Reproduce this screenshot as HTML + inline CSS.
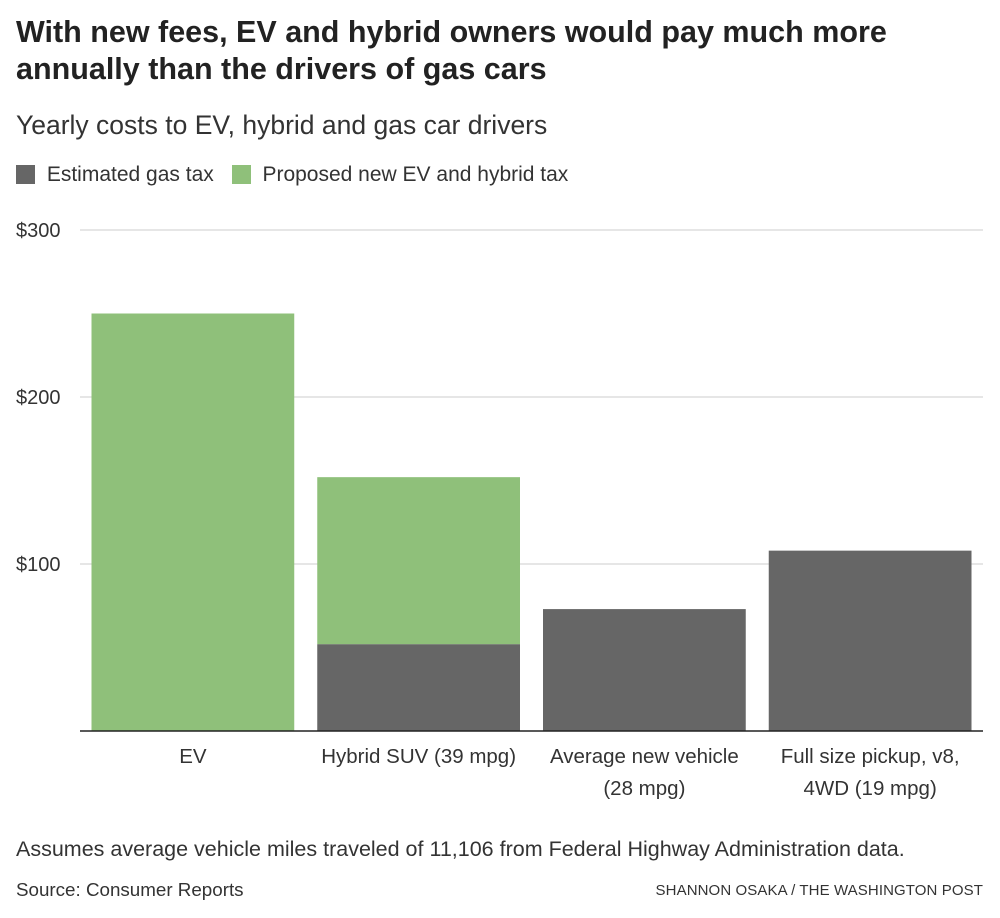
<!DOCTYPE html>
<html><head><meta charset="utf-8"><style>
body{margin:0;width:1000px;height:918px;background:#fff;font-family:"Liberation Sans",sans-serif;color:#222;position:relative;overflow:hidden}
.abs{position:absolute;white-space:nowrap}
</style></head><body>
<div class="abs" style="left:16px;top:14px;font-size:30.5px;font-weight:bold;line-height:37px;color:#222">With new fees, EV and hybrid owners would pay much more<br>annually than the drivers of gas cars</div>
<div class="abs" style="left:16px;top:110px;font-size:26.5px;color:#333">Yearly costs to EV, hybrid and gas car drivers</div>
<div class="abs" style="left:16px;top:163px;font-size:21px;color:#333;line-height:24px">
<span style="display:inline-block;width:19px;height:19px;background:#666;vertical-align:-3px"></span>
<span style="margin:0 12px 0 6px">Estimated gas tax</span>
<span style="display:inline-block;width:19px;height:19px;background:#8fc07a;vertical-align:-3px"></span>
<span style="margin-left:6px">Proposed new EV and hybrid tax</span>
</div>
<svg id="chart" width="1000" height="918" style="position:absolute;left:0;top:0"></svg>
<div class="abs" style="left:16px;top:837px;font-size:21.5px;color:#333">Assumes average vehicle miles traveled of 11,106 from Federal Highway Administration data.</div>
<div class="abs" style="left:16px;top:879px;font-size:18.8px;color:#333">Source: Consumer Reports</div>
<div class="abs" style="right:17px;top:882px;font-size:15px;color:#333;letter-spacing:0.1px">SHANNON OSAKA / THE WASHINGTON POST</div>
<script>
const categories=[["EV"],["Hybrid SUV (39 mpg)"],["Average new vehicle","(28 mpg)"],["Full size pickup, v8,","4WD (19 mpg)"]];
const gasTax=[0,52,73,108];
const evTax=[250,100,0,0];
const ticks=[100,200,300];
const tickLabels=["$100","$200","$300"];
const svg=document.getElementById('chart');
const NS="http://www.w3.org/2000/svg";
const x0=80,x1=983,yBase=731,pxPer=1.67;
const y=v=>yBase-v*pxPer;
const band=(x1-x0)/categories.length;
function mk(t,a){const e=document.createElementNS(NS,t);for(const k in a)e.setAttribute(k,a[k]);svg.appendChild(e);return e;}
ticks.forEach((t,i)=>{
 const l=mk('line',{x1:x0,x2:x1,y1:y(t),y2:y(t),stroke:'#ddd','stroke-width':1.5});
 
 
 const tx=mk('text',{x:16,y:y(t)+7,'font-size':20,fill:'#333','font-family':'Liberation Sans, sans-serif'});
 tx.textContent=tickLabels[i];
 
 
});
categories.forEach((c,i)=>{
 const bx=x0+i*band+11.5,bw=band-23;
 if(gasTax[i]>0){const r=mk('rect',{x:bx,y:y(gasTax[i]),width:bw,height:gasTax[i]*pxPer,fill:'#666'});
 
 }
 if(evTax[i]>0){const r=mk('rect',{x:bx,y:y(gasTax[i]+evTax[i]),width:bw,height:evTax[i]*pxPer,fill:'#8fc07a'});
 
 }
 c.forEach((line,j)=>{
  const t=mk('text',{x:bx+bw/2,y:763+j*32,'text-anchor':'middle','font-size':20.5,fill:'#333','font-family':'Liberation Sans, sans-serif'});
  t.textContent=line;
  
  
 });
});
const ax=mk('line',{x1:x0,x2:x1,y1:yBase,y2:yBase,stroke:'#222','stroke-width':1.5});


</script>
</body></html>
